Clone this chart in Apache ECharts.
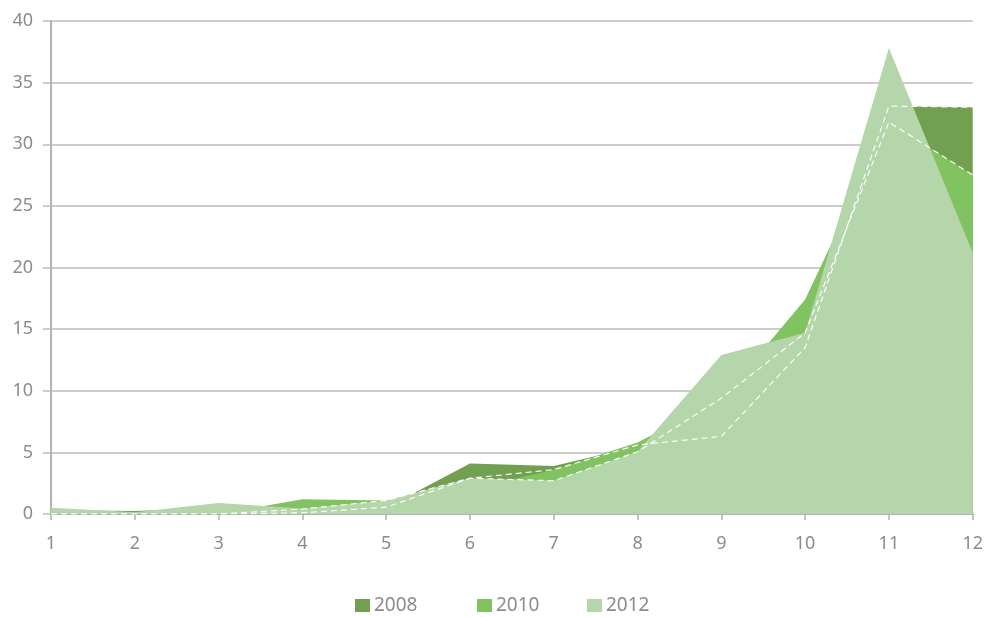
<!DOCTYPE html>
<html>
<head>
<meta charset="utf-8">
<script src="https://cdn.jsdelivr.net/npm/echarts@6/dist/echarts.min.js"></script>
<style>
html,body{margin:0;padding:0;background:#fff;}
#chart{width:986px;height:617px;}
</style>
</head>
<body>
<div id="chart"></div>
<script>
// Categories / tick labels
var categories = ['1','2','3','4','5','6','7','8','9','10','11','12'];
var yTicks = [0, 40, 5]; // min, max, step

// Filled areas
var area2008 = [0.3, 0.25, 0.5, 0.6, 0.5, 4.1, 3.9, 5.5, 6.3, 13.5, 33.1, 33.0];
var area2010 = [0.0, 0.0, 0.0, 1.2, 1.1, 2.0, 3.6, 5.8, 9.3, 17.4, 31.8, 27.5];
var area2012 = [0.5, 0.15, 0.9, 0.45, 1.1, 2.9, 2.7, 5.05, 12.9, 14.7, 37.8, 21.2];

// White dashed outlines drawn over the areas
var dashA = [0, 0, 0, 0.1, 0.55, 2.9, 3.6, 5.6, 6.3, 13.5, 33.1, 33.0];
var dashB = [0, 0, 0, 0.4, 1.1, 2.9, 2.7, 5.05, 9.4, 14.7, 31.8, 27.5];

var seriesNames = ['2008', '2010', '2012'];
var colors = ['#70a050', '#80c360', '#b5d5aa'];

var FONT = 'Noto Sans';
var TXT = '#8c8c8c';
var GRID = '#bdbdbd';

var chart = echarts.init(document.getElementById('chart'), null, {renderer: 'canvas'});

function areaSeries(name, data, color) {
  return {
    name: name, type: 'line', data: data, symbol: 'none', smooth: false,
    lineStyle: {width: 0, color: color},
    itemStyle: {color: color},
    areaStyle: {color: color, opacity: 1},
    emphasis: {disabled: true}, animation: false
  };
}
function dashSeries(name, data) {
  return {
    name: name, type: 'line', data: data, symbol: 'none', z: 5,
    lineStyle: {width: 1.2, color: '#ffffff', type: [6, 4], opacity: 0.95},
    emphasis: {disabled: true}, animation: false
  };
}
function legendAt(name, left) {
  return {
    data: [name], left: left, top: 591, icon: 'rect', itemWidth: 15, itemHeight: 13, itemGap: 4,
    textStyle: {color: TXT, fontFamily: FONT, fontSize: 19, padding: [0,0,0,-1]},
    selectedMode: false
  };
}

chart.setOption({
  animation: false,
  backgroundColor: '#ffffff',
  grid: {left: 51, right: 13, top: 21, bottom: 103, containLabel: false},
  legend: [legendAt('2008', 350), legendAt('2010', 472), legendAt('2012', 582)],
  xAxis: {
    type: 'category', data: categories, boundaryGap: false,
    axisLine: {show: true, lineStyle: {color: '#b3b3b3', width: 2}},
    axisTick: {show: true, length: 6, alignWithLabel: true, lineStyle: {color: '#b3b3b3', width: 1.5}},
    axisLabel: {color: TXT, fontFamily: FONT, fontSize: 18, margin: 21},
    splitLine: {show: false}
  },
  yAxis: {
    type: 'value', min: yTicks[0], max: yTicks[1], interval: yTicks[2],
    axisLine: {show: true, lineStyle: {color: '#b3b3b3', width: 2}},
    axisTick: {show: true, length: 8, lineStyle: {color: GRID, width: 1.5}},
    axisLabel: {color: TXT, fontFamily: FONT, fontSize: 18, margin: 18},
    splitLine: {show: true, lineStyle: {color: GRID, width: 1.5}}
  },
  series: [
    areaSeries(seriesNames[0], area2008, colors[0]),
    areaSeries(seriesNames[1], area2010, colors[1]),
    areaSeries(seriesNames[2], area2012, colors[2]),
    dashSeries('outlineA', dashA),
    dashSeries('outlineB', dashB)
  ]
});
</script>
</body>
</html>
